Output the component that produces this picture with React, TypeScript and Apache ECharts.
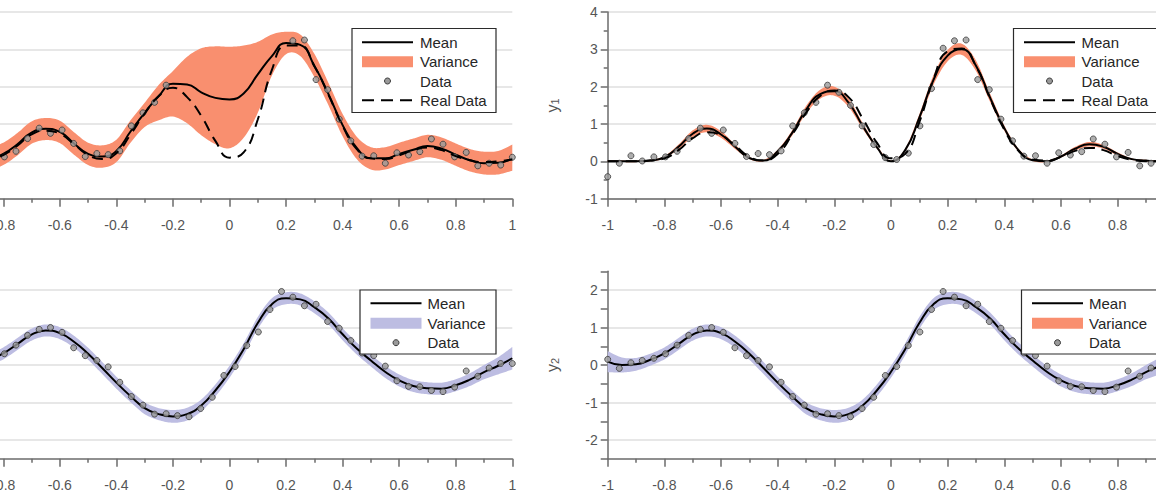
import React, { useEffect, useRef } from 'react';
import * as echarts from 'echarts';

// ---------- data ----------
const curveX = [-1, -0.95, -0.9, -0.85, -0.8, -0.75, -0.7, -0.65, -0.6, -0.55, -0.5, -0.45, -0.4, -0.35, -0.3, -0.25, -0.2, -0.15, -0.1, -0.05, 0, 0.05, 0.1, 0.15, 0.2, 0.25, 0.3, 0.35, 0.4, 0.45, 0.5, 0.55, 0.6, 0.65, 0.7, 0.75, 0.8, 0.85, 0.9, 0.95, 1];

const dataX = [-1, -0.959, -0.918, -0.878, -0.837, -0.796, -0.755, -0.714, -0.673, -0.633, -0.592, -0.551, -0.51, -0.469, -0.429, -0.388, -0.347, -0.306, -0.265, -0.224, -0.184, -0.143, -0.102, -0.061, -0.02, 0.02, 0.061, 0.102, 0.143, 0.184, 0.224, 0.265, 0.306, 0.347, 0.388, 0.429, 0.469, 0.51, 0.551, 0.592, 0.633, 0.673, 0.714, 0.755, 0.796, 0.837, 0.878, 0.918, 0.959, 1];

const dataY1 = [-0.41, -0.05, 0.15, 0.01, 0.12, 0.12, 0.27, 0.61, 0.89, 0.75, 0.84, 0.48, 0.13, 0.21, 0.18, 0.28, 0.95, 1.3, 1.58, 2.04, 1.85, 1.5, 0.95, 0.45, 0.1, 0.05, 0.22, 0.95, 1.95, 3.03, 3.23, 3.25, 2.19, 1.92, 1.13, 0.55, 0.14, 0.15, -0.05, 0.23, 0.17, 0.26, 0.6, 0.46, 0.12, 0.24, -0.12, -0.05, -0.1, 0.11];

const dataY2 = [0.15, -0.09, 0.06, 0.12, 0.18, 0.3, 0.53, 0.79, 0.95, 1.0, 0.87, 0.46, 0.25, 0.12, -0.05, -0.46, -0.84, -1.07, -1.31, -1.3, -1.35, -1.38, -1.16, -0.86, -0.28, -0.04, 0.52, 0.88, 1.48, 1.96, 1.81, 1.58, 1.62, 1.16, 0.98, 0.65, 0.32, 0.25, -0.03, -0.42, -0.57, -0.58, -0.68, -0.71, -0.59, -0.16, -0.3, -0.08, 0.04, 0.04];

// observations removed from the top-left fit (|x| < 0.2)
const gapFrom = -0.2;
const gapTo = 0.2;

// top-left (sparse data)
const tlMean = [-0.1, 0.02, 0.06, 0.08, 0.2, 0.46, 0.77, 0.87, 0.79, 0.48, 0.2, 0.13, 0.28, 0.8, 1.3, 1.75, 2.08, 2.06, 1.85, 1.7, 1.66, 1.82, 2.33, 2.82, 3.17, 3.12, 2.56, 1.8, 0.97, 0.36, 0.08, 0.08, 0.2, 0.31, 0.41, 0.34, 0.18, 0.03, -0.05, -0.04, 0.08];
const tlUpper = [0.25, 0.3, 0.35, 0.38, 0.5, 0.76, 1.07, 1.16, 1.09, 0.78, 0.5, 0.43, 0.58, 1.1, 1.57, 2.05, 2.42, 2.8, 3.03, 3.08, 3.07, 3.1, 3.2, 3.4, 3.47, 3.4, 2.88, 2.1, 1.27, 0.66, 0.38, 0.38, 0.5, 0.61, 0.71, 0.64, 0.48, 0.33, 0.26, 0.28, 0.45];
const tlLower = [-0.45, -0.28, -0.24, -0.22, -0.1, 0.16, 0.47, 0.57, 0.49, 0.18, -0.1, -0.17, -0.02, 0.5, 0.92, 1.1, 1.2, 1.02, 0.7, 0.46, 0.35, 0.63, 1.3, 2.3, 2.87, 2.82, 2.26, 1.5, 0.67, 0.06, -0.22, -0.22, -0.1, 0.01, 0.11, 0.04, -0.12, -0.27, -0.35, -0.35, -0.25];
const tlReal = [0, 0, 0.02, 0.06, 0.17, 0.42, 0.72, 0.82, 0.74, 0.46, 0.17, 0.06, 0.22, 0.72, 1.28, 1.75, 1.97, 1.72, 1.22, 0.55, 0.1, 0.24, 1.12, 2.45, 3.1, 3.1, 2.55, 1.78, 0.95, 0.33, 0.08, 0.06, 0.16, 0.3, 0.37, 0.3, 0.14, 0.03, -0.02, 0, 0.05];

// top-right (full data)
const trMean = [0, 0, 0, 0.02, 0.11, 0.39, 0.74, 0.88, 0.72, 0.39, 0.09, 0.02, 0.27, 0.75, 1.38, 1.8, 1.88, 1.57, 0.95, 0.38, 0, 0.3, 1.17, 2.18, 2.83, 3.0, 2.56, 1.7, 0.89, 0.3, 0.03, 0, 0.13, 0.34, 0.46, 0.39, 0.2, 0.06, 0.02, 0, 0];
const trHalfWidth = [0.02, 0.02, 0.02, 0.02, 0.03, 0.06, 0.09, 0.1, 0.09, 0.06, 0.03, 0.02, 0.04, 0.07, 0.1, 0.12, 0.12, 0.11, 0.08, 0.04, 0.02, 0.04, 0.09, 0.13, 0.15, 0.15, 0.14, 0.11, 0.07, 0.04, 0.02, 0.02, 0.03, 0.05, 0.06, 0.05, 0.04, 0.02, 0.02, 0.02, 0.02];
const trReal = [0, 0, 0, 0.02, 0.08, 0.3, 0.62, 0.78, 0.7, 0.42, 0.12, 0.02, 0.2, 0.7, 1.3, 1.75, 1.9, 1.72, 1.15, 0.5, 0.08, 0.2, 1.05, 2.2, 2.95, 3.02, 2.55, 1.68, 0.85, 0.28, 0.05, 0.02, 0.12, 0.28, 0.36, 0.3, 0.14, 0.04, 0, 0, 0];

// bottom row (y2)
const bMean = [0.09, 0, 0.02, 0.14, 0.31, 0.56, 0.81, 0.92, 0.85, 0.62, 0.3, -0.08, -0.47, -0.83, -1.15, -1.31, -1.37, -1.31, -1.08, -0.68, -0.18, 0.42, 1.12, 1.62, 1.78, 1.75, 1.54, 1.24, 0.82, 0.44, 0.12, -0.18, -0.41, -0.56, -0.62, -0.63, -0.54, -0.39, -0.19, -0.02, 0.18];
const bHalfWidth = [0.28, 0.2, 0.17, 0.16, 0.16, 0.16, 0.16, 0.16, 0.16, 0.16, 0.16, 0.16, 0.16, 0.16, 0.16, 0.16, 0.17, 0.17, 0.16, 0.16, 0.16, 0.16, 0.16, 0.16, 0.16, 0.16, 0.16, 0.16, 0.16, 0.16, 0.16, 0.16, 0.16, 0.16, 0.16, 0.16, 0.16, 0.17, 0.19, 0.23, 0.3];

const yTop = { min: -1, max: 4, interval: 1 };
const yBottom = { min: -2.5, max: 2.5, interval: 0.5 };

// ---------- style ----------
const SALMON = '#F98F6F';
const LAVENDER = '#BDBDE2';
const AXIS = '#6b6b6b';
const LABEL = '#555555';
const GRID = '#e7e7e7';
const FONT = '"Liberation Sans", Arial, sans-serif';
const SHIFT = 70; // chart canvas starts 70px left of the visible frame (left panels are cropped)

function spline(pts: number[][], steps = 10) {
  const out: number[][] = [];
  const n = pts.length;
  for (let i = 0; i < n - 1; i++) {
    const p0 = pts[Math.max(i - 1, 0)], p1 = pts[i], p2 = pts[i + 1], p3 = pts[Math.min(i + 2, n - 1)];
    for (let s = 0; s < steps; s++) {
      const t = s / steps, t2 = t * t, t3 = t2 * t;
      const f = (a: number, b: number, c: number, d: number) =>
        0.5 * (2 * b + (-a + c) * t + (2 * a - 5 * b + 4 * c - d) * t2 + (-a + 3 * b - 3 * c + d) * t3);
      out.push([f(p0[0], p1[0], p2[0], p3[0]), f(p0[1], p1[1], p2[1], p3[1])]);
    }
  }
  out.push(pts[n - 1]);
  return out;
}

function bandSeries(idx: number, upper: number[], lower: number[], color: string) {
  return {
    type: 'custom',
    xAxisIndex: idx,
    yAxisIndex: idx,
    silent: true,
    z: 1,
    data: curveX.map((x, i) => [x, lower[i], upper[i]]),
    encode: { x: 0, y: [1, 2] },
    renderItem: (params: any, api: any) => {
      if (params.dataIndex !== 0) return null;
      const top = curveX.map((x, i) => api.coord([x, upper[i]]));
      const bot = curveX.map((x, i) => api.coord([x, lower[i]]));
      const pts = spline(top).concat(spline(bot).reverse());
      return { type: 'polygon', shape: { points: pts }, style: { fill: color, stroke: 'none' } };
    },
  };
}

function lineSeries(idx: number, ys: number[], dashed: boolean) {
  return {
    type: 'line',
    xAxisIndex: idx,
    yAxisIndex: idx,
    silent: true,
    z: dashed ? 4 : 2,
    smooth: 0.5,
    symbol: 'none',
    showSymbol: false,
    data: curveX.map((x, i) => [x, ys[i]]),
    lineStyle: { color: '#000', width: 2, type: dashed ? [11, 7] : 'solid' },
  };
}

function scatterSeries(idx: number, pts: number[][]) {
  return {
    type: 'scatter',
    xAxisIndex: idx,
    yAxisIndex: idx,
    silent: true,
    z: 3,
    symbol: 'circle',
    symbolSize: 6,
    data: pts,
    itemStyle: { color: '#9a9a9a', borderColor: '#3a3a3a', borderWidth: 1 },
  };
}

const grids = [
  { left: -53.3 + SHIFT, top: 12, width: 565.6, height: 186.7, outerBoundsMode: 'none' },
  { left: 607.7 + SHIFT, top: 12, width: 566.6, height: 186.7, outerBoundsMode: 'none' },
  { left: -53.3 + SHIFT, top: 271.25, width: 565.6, height: 187.5, outerBoundsMode: 'none' },
  { left: 607.7 + SHIFT, top: 271.25, width: 566.6, height: 187.5, outerBoundsMode: 'none' },
];

function xAxis(idx: number) {
  const hide = idx % 2 === 0 ? -1 : 1;
  return {
    type: 'value',
    gridIndex: idx,
    min: -1,
    max: 1,
    interval: 0.2,
    axisLine: { show: true, onZero: false, lineStyle: { color: AXIS, width: 1.5 } },
    axisTick: { show: true, inside: false, length: 8, lineStyle: { color: AXIS, width: 1.5 } },
    minorTick: { show: true, splitNumber: 2, length: 4, lineStyle: { color: AXIS, width: 1.5 } },
    splitLine: { show: false },
    axisLabel: {
      color: LABEL,
      fontSize: 14,
      fontFamily: FONT,
      margin: 19,
      formatter: (v: number) => (Math.abs(v - hide) < 1e-6 ? '' : String(Math.round(v * 10) / 10)),
    },
  };
}

function yAxis(idx: number) {
  const top = idx < 2;
  const r = top ? yTop : yBottom;
  const visible = idx % 2 === 1;
  return {
    type: 'value',
    gridIndex: idx,
    min: r.min,
    max: r.max,
    interval: r.interval,
    name: visible ? (top ? '{a|y}{b|1}' : '{a|y}{b|2}') : '',
    nameLocation: 'middle',
    nameGap: 47,
    nameTextStyle: {
      color: LABEL,
      fontFamily: FONT,
      rich: {
        a: { fontSize: 16, color: LABEL, fontFamily: FONT },
        b: { fontSize: 11, color: LABEL, fontFamily: FONT, verticalAlign: 'bottom', padding: [6, 0, 0, 0] },
      },
    },
    axisLine: { show: visible, onZero: false, lineStyle: { color: AXIS, width: 1.5 } },
    axisTick: { show: visible, inside: false, length: 7, lineStyle: { color: AXIS, width: 1.5 } },
    minorTick: { show: visible && top, splitNumber: 2, length: 4, lineStyle: { color: AXIS, width: 1.5 } },
    splitLine: {
      show: true,
      lineStyle: { color: top ? GRID : ['rgba(0,0,0,0)', GRID], width: 2 },
    },
    axisLabel: {
      show: visible,
      color: LABEL,
      fontSize: 14,
      fontFamily: FONT,
      margin: 10,
      formatter: (v: number) => (Math.abs(v - Math.round(v)) < 1e-6 ? String(Math.round(v)) : ''),
    },
  };
}

function legend(x: number, y: number, w: number, h: number, rowY: number[], sx: number, tx: number, bandColor: string, withReal: boolean) {
  const sw = 51;
  x += SHIFT; sx += SHIFT; tx += SHIFT;
  const els: any[] = [
    { type: 'rect', shape: { x, y, width: w, height: h }, style: { fill: '#fff', stroke: '#2b2b2b', lineWidth: 1.2 }, z: 100 },
    { type: 'line', shape: { x1: sx, y1: rowY[0], x2: sx + sw, y2: rowY[0] }, style: { stroke: '#000', lineWidth: 2 }, z: 101 },
    { type: 'rect', shape: { x: sx, y: rowY[1] - 5.5, width: sw, height: 11 }, style: { fill: bandColor }, z: 101 },
    { type: 'circle', shape: { cx: sx + sw / 2, cy: rowY[2], r: 3 }, style: { fill: '#9a9a9a', stroke: '#3a3a3a', lineWidth: 1 }, z: 101 },
  ];
  const names = ['Mean', 'Variance', 'Data'];
  if (withReal) {
    els.push({ type: 'line', shape: { x1: sx, y1: rowY[3], x2: sx + sw, y2: rowY[3] }, style: { stroke: '#000', lineWidth: 2, lineDash: [12, 7] }, z: 101 });
    names.push('Real Data');
  }
  names.forEach((n, i) => {
    els.push({ type: 'text', x: tx, y: rowY[i], style: { text: n, fill: '#262626', fontSize: 15, fontFamily: FONT, verticalAlign: 'middle', align: 'left' }, z: 101 });
  });
  return els;
}

function buildOption() {
  const sparse = dataX.map((x, i) => [x, dataY1[i]]).filter((p) => p[0] <= gapFrom || p[0] >= gapTo);
  const full1 = dataX.map((x, i) => [x, dataY1[i]]);
  const full2 = dataX.map((x, i) => [x, dataY2[i]]);
  const trUpper = trMean.map((m, i) => m + trHalfWidth[i]);
  const trLower = trMean.map((m, i) => m - trHalfWidth[i]);
  const bUpper = bMean.map((m, i) => m + bHalfWidth[i]);
  const bLower = bMean.map((m, i) => m - bHalfWidth[i]);

  const rows4 = [42.3, 61.7, 81, 100.3];
  const rowsB = [303.3, 323.3, 342.7];

  return {
    animation: false,
    backgroundColor: '#ffffff',
    grid: grids,
    xAxis: [0, 1, 2, 3].map(xAxis),
    yAxis: [0, 1, 2, 3].map(yAxis),
    series: [
      bandSeries(0, tlUpper, tlLower, SALMON),
      lineSeries(0, tlMean, false),
      scatterSeries(0, sparse),
      lineSeries(0, tlReal, true),

      bandSeries(1, trUpper, trLower, SALMON),
      lineSeries(1, trMean, false),
      scatterSeries(1, full1),
      lineSeries(1, trReal, true),

      bandSeries(2, bUpper, bLower, LAVENDER),
      lineSeries(2, bMean, false),
      scatterSeries(2, full2),

      bandSeries(3, bUpper, bLower, LAVENDER),
      lineSeries(3, bMean, false),
      scatterSeries(3, full2),
    ],
    graphic: [
      ...legend(352, 28.5, 144, 84, rows4, 362, 420, SALMON, true),
      ...legend(1013.5, 28.5, 144, 84, rows4, 1024, 1081.5, SALMON, true),
      ...legend(360, 290, 136, 64, rowsB, 370.5, 427.5, LAVENDER, false),
      ...legend(1021.5, 290, 136, 64, rowsB, 1032, 1089, SALMON, false),
    ],
  };
}

export default function App() {
  const ref = useRef<HTMLDivElement>(null);
  useEffect(() => {
    if (!ref.current) return;
    const chart = echarts.init(ref.current, null, { renderer: 'svg' });
    chart.setOption(buildOption() as any);
    return () => chart.dispose();
  }, []);
  return (
    <div style={{ position: 'absolute', left: 0, top: 0, width: 1156, height: 495, overflow: 'hidden', background: '#fff' }}>
      <div
        ref={ref}
        style={{ position: 'absolute', left: -SHIFT, top: 0, width: 1156 + 2 * SHIFT - 10, height: 495 }}
      />
    </div>
  );
}
